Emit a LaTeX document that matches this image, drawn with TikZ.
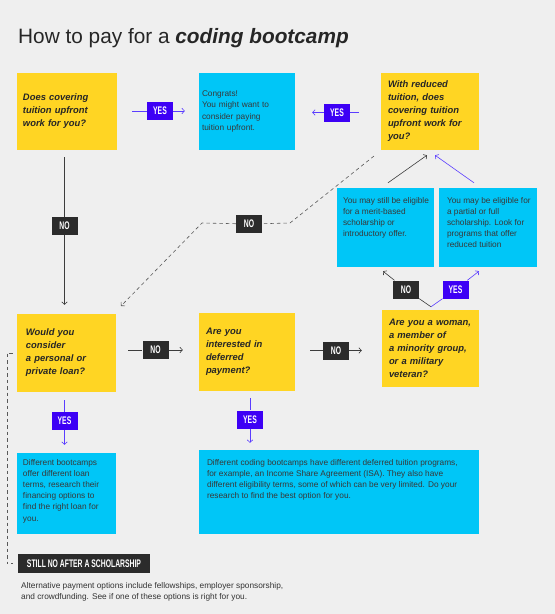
\documentclass[tikz,border=0pt]{standalone}
\usepackage{fontspec}
\setmainfont{Liberation Sans}
\newfontfamily\tagfont[FakeStretch=0.62]{Liberation Sans}
\usetikzlibrary{arrows.meta,calc}

\definecolor{bggray}{HTML}{EFEFEF}
\definecolor{qyellow}{HTML}{FFD523}
\definecolor{acyan}{HTML}{00C6F7}
\definecolor{yesblue}{HTML}{3D00F5}
\definecolor{nodark}{HTML}{2B2B2B}
\definecolor{lineblue}{HTML}{5B3DFF}
\definecolor{linegray}{HTML}{3C3C3C}

\tikzset{
  question/.style={fill=qyellow, inner xsep=7pt, inner ysep=0pt, minimum height=77pt, align=left,
    font=\fontsize{9.4}{13}\selectfont\bfseries\itshape, text=black!85},
  answerbox/.style={fill=acyan, inner sep=0pt},
  answertext/.style={anchor=north west, inner sep=0pt, align=left,
    font=\fontsize{8.3}{11.2}\selectfont, text=black!78},
  yestag/.style={fill=yesblue, text=white, minimum width=26pt, minimum height=18pt, inner sep=0pt,
    font=\tagfont\bfseries\fontsize{11}{11}\selectfont},
  notag/.style={yestag, fill=nodark},
  flow/.style={draw=linegray, line width=0.6pt},
  flowyes/.style={draw=lineblue, line width=0.6pt},
  arrowend/.style={-{Straight Barb[length=2.5pt,width=5.5pt]}},
  back/.style={draw=black!65, line width=0.6pt, dash pattern=on 3.5pt off 3pt},
}

\begin{document}
\begin{tikzpicture}[x=1pt,y=-1pt]
    \fill[bggray] (0,0) rectangle (555,614);
    \useasboundingbox (0,0) rectangle (555,614);

    % title
    \node[anchor=base west, inner sep=0pt, font=\fontsize{20.8}{20.8}\selectfont, text=black!85] (title) at (18,43)
        {How to pay for a \textbf{\textit{coding bootcamp}}};

    % top row
    \node[question, text width=88pt, inner xsep=6pt, minimum width=100pt] (q1) at (67,111.5) {Does covering\\tuition upfront\\work for you?};
    \node[answerbox, minimum width=96pt, minimum height=77pt, align=left, text width=90pt, inner xsep=3pt,
        font=\fontsize{8.3}{11.2}\selectfont, text=black!78] (congrats) at (247,111.5)
        {Congrats!\\You might want to\\consider paying\\tuition upfront.};
    \node[question, text width=84pt, minimum width=98pt] (reduced) at (430,111.5)
        {With reduced\\tuition, does\\covering tuition\\upfront work for\\you?};

    % scholarship boxes
    \node[answerbox, minimum width=97pt, minimum height=79pt] (merit) at (385.5,227.5) {};
    \node[answertext] (merittext) at ($(merit.north west)+(6,9)$)
        {You may still be eligible\\for a merit-based\\scholarship or\\introductory offer.};
    \node[answerbox, minimum width=98pt, minimum height=79pt] (partial) at (488,227.5) {};
    \node[answertext] (partialtext) at ($(partial.north west)+(8,9)$)
        {You may be eligible for\\a partial or full\\scholarship. Look for\\programs that offer\\reduced tuition};

    % middle row
    \node[question, text width=81pt, inner xsep=9pt, minimum width=99pt, minimum height=78pt] (loan) at (66.5,353)
        {Would you\\consider\\a personal or\\private loan?};
    \node[question, text width=82pt, minimum width=96pt, minimum height=78pt] (deferred) at (247,352)
        {Are you\\interested in\\deferred\\payment?};
    \node[question, text width=83pt, minimum width=97pt] (woman) at (430.5,348.5)
        {Are you a woman,\\a member of\\a minority group,\\or a military\\veteran?};

    % answers
    \node[answerbox, minimum width=99pt, minimum height=81pt] (loanans) at (66.5,493.5) {};
    \node[answertext] (loananstext) at ($(loanans.north west)+(6,6)$)
        {Different bootcamps\\offer different loan\\terms, research their\\financing options to\\find the right loan for\\you.};
    \node[answerbox, minimum width=280pt, minimum height=84pt] (defans) at (339,492) {};
    \node[answertext] (defanstext) at ($(defans.north west)+(8,9)$)
        {Different coding bootcamps have different deferred tuition programs,\\for example, an Income Share Agreement (ISA). They also have\\different eligibility terms, some of which can be very limited. Do your\\research to find the best option for you.};

    % tags
    \node[yestag] (yes1) at (160,111) {YES};
    \node[yestag] (yes2) at (337,112.5) {YES};
    \node[notag] (no1) at (64.5,226) {NO};
    \node[notag] (no2) at (249,224) {NO};
    \node[notag] (no3) at (406,289.5) {NO};
    \node[yestag] (yes3) at (455.5,289.5) {YES};
    \node[notag] (no4) at (155.5,350) {NO};
    \node[notag] (no5) at (336,350.5) {NO};
    \node[yestag] (yes4) at (64.5,421) {YES};
    \node[yestag] (yes5) at (250,419.5) {YES};
    \node[notag, minimum width=132pt, minimum height=19pt] (still) at (84,563.5) {STILL NO AFTER A SCHOLARSHIP};

    % footer
    \node[answertext, font=\fontsize{8.3}{11.5}\selectfont, text=black!80] (footer) at (21,582)
        {Alternative payment options include fellowships, employer sponsorship,\\and crowdfunding. See if one of these options is right for you.};

    % connectors
    \draw[flowyes, shorten <=15pt] (yes1 -| q1.east) -- (yes1);
    \draw[flowyes, arrowend, shorten >=14pt] (yes1) -- (yes1 -| congrats.west);
    \draw[flowyes, shorten <=22pt] (yes2 -| reduced.west) -- (yes2);
    \draw[flowyes, arrowend, shorten >=17pt] (yes2) -- (yes2 -| congrats.east);
    \draw[flow, shorten <=7pt] (no1 |- q1.south) -- (no1);
    \draw[flow, arrowend, shorten >=9pt] (no1) -- (no1 |- loan.north);

    \coordinate (dstart) at (374,156);
    \coordinate (dbend) at (290,223);
    \coordinate (dknee) at (202,223);
    \coordinate (dend) at (121,306);
    \draw[back] (dstart) -- (dbend) -- (no2);
    \draw[back, arrowend] (no2) -- (dknee) -- (dend);

    \draw[flow, arrowend] ($(merit.north)+(2.5,-5)$) -- ($(reduced.south)+(-3,5)$);
    \draw[flowyes, arrowend] ($(partial.north)+(-14,-5)$) -- ($(reduced.south)+(5,5)$);

    \coordinate (vtip) at ($(woman.north)+(0.5,-3)$);
    \draw[flow] (vtip) -- (no3);
    \draw[flow, arrowend] (no3) -- ($(merit.south)+(-2.5,4)$);
    \draw[flowyes] (vtip) -- (yes3);
    \draw[flowyes, arrowend] (yes3) -- ($(partial.south)+(-9,4)$);

    \draw[flow, shorten <=12pt] (no4 -| loan.east) -- (no4);
    \draw[flow, arrowend, shorten >=16pt] (no4) -- (no4 -| deferred.west);
    \draw[flow, shorten <=15pt] (no5 -| deferred.east) -- (no5);
    \draw[flow, arrowend, shorten >=20pt] (no5) -- (no5 -| woman.west);
    \draw[flowyes, shorten <=8pt] (yes4 |- loan.south) -- (yes4);
    \draw[flowyes, arrowend, shorten >=8pt] (yes4) -- (yes4 |- loanans.north);
    \draw[flowyes, shorten <=7pt] (yes5 |- deferred.south) -- (yes5);
    \draw[flowyes, arrowend, shorten >=7pt] (yes5) -- (yes5 |- defans.north);

    \draw[back] ($(loan.west)+(-4,0)$) -- ($(loan.west)+(-10,0)$) |- ($(still.west)+(-5,0)$);
\end{tikzpicture}
\end{document}
